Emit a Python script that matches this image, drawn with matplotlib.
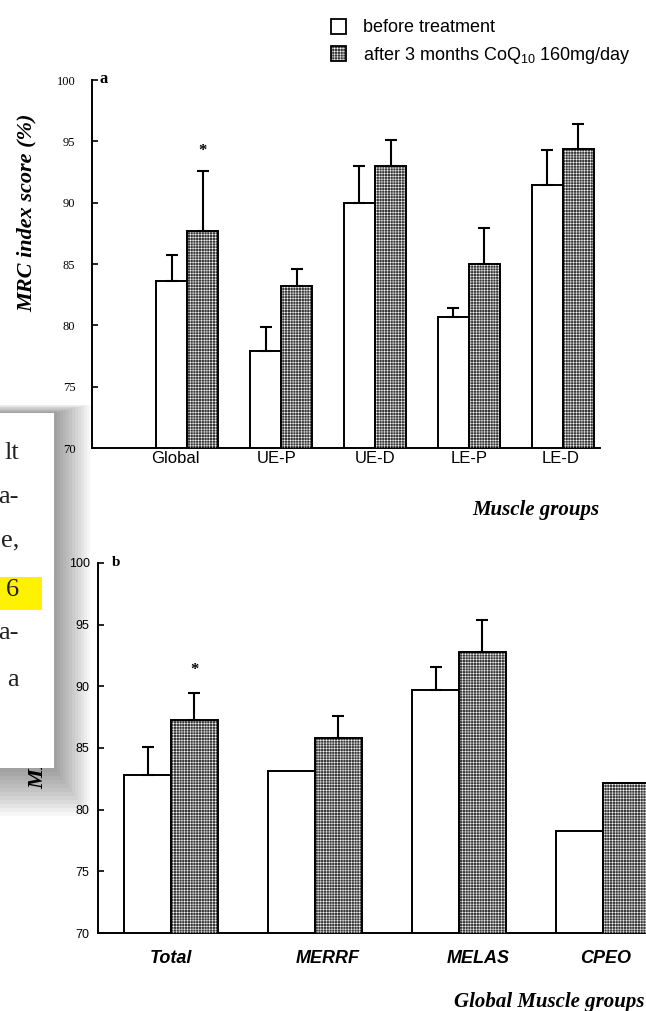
import numpy as np
import matplotlib
matplotlib.use('Agg')
import matplotlib.pyplot as plt
from matplotlib.patches import Rectangle

plt.rcParams['mathtext.fontset'] = 'custom'
plt.rcParams['mathtext.rm'] = 'Liberation Sans'
plt.rcParams['hatch.linewidth'] = 0.35

# panel a: muscle groups
groups_a = ['Global', 'UE-P', 'UE-D', 'LE-P', 'LE-D']
before_a = [83.6, 77.9, 90.0, 80.7, 91.4]
before_a_err = [2.1, 2.0, 3.0, 0.7, 2.9]
after_a = [87.7, 83.2, 93.0, 85.0, 94.4]
after_a_err = [4.9, 1.4, 2.1, 2.9, 2.0]

# panel b: global score per phenotype
groups_b = ['Total', 'MERRF', 'MELAS', 'CPEO']
before_b = [82.8, 83.1, 89.7, 78.3]
before_b_err = [2.3, 0, 1.9, 0]
after_b = [87.3, 85.8, 92.8, 82.2]
after_b_err = [2.2, 1.8, 2.6, 0]

yticks = [70, 75, 80, 85, 90, 95, 100]

W, H = 646, 1011
def fx(px):
    return px / W
def fy(py):
    return 1 - py / H

HATCH_FACE = '#3a3a3a'

fig = plt.figure(figsize=(W / 100, H / 100), dpi=100)


def draw_panel(ax, x, before, berr, after, aerr, w):
    ax.bar(x - w / 2, before, w, color='white', edgecolor='black', lw=1.4, zorder=2)
    ax.bar(x + w / 2, after, w, color=HATCH_FACE, lw=0, zorder=2)
    ax.bar(x + w / 2, after, w, color='none', edgecolor='white', hatch='++++++', lw=0, zorder=3)
    ax.bar(x + w / 2, after, w, color='none', edgecolor='black', lw=1.4, zorder=4)
    for xs, vals, errs in [(x - w / 2, before, berr), (x + w / 2, after, aerr)]:
        errs = np.array(errs)
        m = errs > 0
        ax.errorbar(xs[m], np.array(vals)[m], yerr=[np.zeros(m.sum()), errs[m]],
                    fmt='none', ecolor='black', elinewidth=1.5, capsize=4,
                    capthick=1.5, zorder=5)
    ax.set_ylim(70, 100)
    ax.set_yticks(yticks)
    for s in ['top', 'right']:
        ax.spines[s].set_visible(False)
    for s in ['left', 'bottom']:
        ax.spines[s].set_linewidth(1.4)
    ax.tick_params(axis='y', direction='in', length=4, width=1.2)
    ax.tick_params(axis='x', length=0)


# ---- panel a
ax_a = fig.add_axes([fx(92), fy(448), (600 - 92) / W, (448 - 80) / H])
xa = np.arange(len(groups_a))
draw_panel(ax_a, xa, before_a, before_a_err, after_a, after_a_err, 0.33)
ax_a.set_xlim(-1.011, 4.394)
ax_a.set_xticks(xa - np.array([0.12, 0.05, 0.0, 0.0, 0.03]))
ax_a.set_xticklabels(groups_a, family='Liberation Sans', size=12)
ax_a.tick_params(axis='x', pad=2.5)
ax_a.tick_params(axis='y', pad=12)
for lab in ax_a.get_yticklabels():
    lab.set_family('Liberation Serif')
    lab.set_size(9)
ax_a.text(xa[0] + 0.165, 94.2, '*', ha='center', va='center', size=12,
          family='Liberation Serif', weight='bold')

# ---- panel b
ax_b = fig.add_axes([fx(98), fy(933), (700 - 98) / W, (933 - 563) / H])
xb = np.arange(len(groups_b))
draw_panel(ax_b, xb, before_b, before_b_err, after_b, after_b_err, 0.326)
ax_b.set_xlim(-0.507, 3.674)
ax_b.set_xticks(xb + np.array([0.0, 0.09, 0.13, 0.02]))
ax_b.set_xticklabels(groups_b, family='Liberation Sans', size=13,
                     weight='bold', style='italic')
ax_b.tick_params(axis='x', pad=12)
ax_b.tick_params(axis='y', pad=6)
for lab in ax_b.get_yticklabels():
    lab.set_family('Liberation Sans')
    lab.set_size(9)
ax_b.text(xb[0] + 0.163, 91.3, '*', ha='center', va='center', size=12,
          family='Liberation Serif', weight='bold')

# panel letters and axis titles
fig.text(fx(100), fy(79), 'a', family='Liberation Serif', weight='bold', size=12,
         ha='left', va='center')
fig.text(fx(112), fy(563), 'b', family='Liberation Serif', weight='bold', size=11,
         ha='left', va='center')
ylab = dict(family='Liberation Serif', weight='bold', style='italic', size=16,
            rotation=90, ha='center', va='center')
fig.text(fx(27), fy(213), 'MRC index score (%)', **ylab)
fig.text(fx(38), fy(690), 'MRC index score (%)', zorder=5, **ylab)
xlab = dict(family='Liberation Serif', weight='bold', style='italic', size=15,
            va='center')
fig.text(fx(599), fy(510), 'Muscle groups', ha='right', **xlab)
fig.text(fx(644), fy(1002), 'Global Muscle groups', ha='right', **xlab)

# legend
fig.patches.append(Rectangle((fx(331), fy(34)), 15 / W, 15 / H, transform=fig.transFigure,
                             facecolor='white', edgecolor='black', lw=1.3))
fig.patches.append(Rectangle((fx(331), fy(61)), 15 / W, 15 / H, transform=fig.transFigure,
                             facecolor=HATCH_FACE, edgecolor='white', hatch='++++++', lw=0))
fig.patches.append(Rectangle((fx(331), fy(61)), 15 / W, 15 / H, transform=fig.transFigure,
                             facecolor='none', edgecolor='black', lw=1.3))
fig.text(fx(363), fy(28), 'before treatment', family='Liberation Sans', size=13, va='center')
fig.text(fx(363), fy(56), 'after 3 months CoQ$_{10}$ 160mg/day', family='Liberation Sans',
         size=13, va='center')

# pasted text box with drop shadow over the left edge
for k in range(1, 13):
    fig.patches.append(Rectangle((0, fy(768 + k * 4)), (54 + k * 3) / W,
                                 (768 + k * 4 - (413 - k * 0.7)) / H,
                                 transform=fig.transFigure, facecolor='black',
                                 alpha=0.035, lw=0, zorder=10))
fig.patches.append(Rectangle((0, fy(768)), 54 / W, (768 - 413) / H, transform=fig.transFigure,
                             facecolor='white', lw=0, zorder=11))
fig.patches.append(Rectangle((0, fy(610)), 42 / W, 33 / H, transform=fig.transFigure,
                             facecolor='#fff200', lw=0, zorder=12))
box_lines = ['lt', 'a-', 'e,', '6', 'a-', 'a']
box_y = [453, 497, 540, 590, 633, 680]
for t, yy in zip(box_lines, box_y):
    fig.text(fx(19), fy(yy), t, family='Liberation Serif', size=19, color='#222222',
             ha='right', va='center', zorder=13)

fig.savefig('out.png', dpi=100)
